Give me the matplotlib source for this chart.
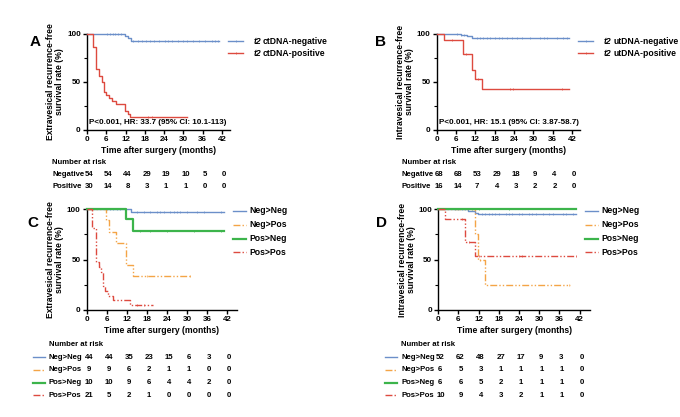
import numpy as np
import matplotlib
matplotlib.use("Agg")
import matplotlib.pyplot as plt
from matplotlib.transforms import blended_transform_factory
from matplotlib.ticker import MultipleLocator

plt.rcParams['font.family'] = ['Liberation Sans', 'DejaVu Sans']
plt.rcParams['font.weight'] = 'bold'

# colours
BLUE = '#6b8fc9'
RED = '#dd4a3f'
GREEN = '#3cb44b'
ORANGE = '#f4a446'
DDOT = (0, (5, 1.5, 1, 1.5, 1, 1.5))

ticks_x = [0, 6, 12, 18, 24, 30, 36, 42]

# ---- Panel A: ctDNA at t2, extravesical RFS ----
a_neg_t = [0, 11.8, 12.8, 13.7, 41]
a_neg_s = [100, 98, 96, 92.6, 92.6]
a_neg_cens = [6.3, 7.2, 8.0, 8.8, 9.7, 10.7, 14.4, 15.8, 17.1, 18.5, 19.7, 20.9, 22.4,
              24.2, 25.1, 26.3, 28.2, 29.9, 31.1, 33.0, 34.8, 36.7, 39.0, 39.8, 40.7]
a_pos_t = [0, 1.8, 2.8, 3.8, 4.6, 5.4, 5.9, 6.8, 7.7, 9.0, 11.8, 12.7, 13.5, 31]
a_pos_s = [100, 86.7, 63.3, 56.7, 50, 40, 36.7, 33.3, 30, 26.7, 20, 16.7, 13.3, 13.3]
a_pos_cens = [19.1, 20.1]
a_risk_neg = [54, 54, 44, 29, 19, 10, 5, 0]
a_risk_pos = [30, 14, 8, 3, 1, 1, 0, 0]

# ---- Panel B: utDNA at t2, intravesical RFS ----
b_neg_t = [0, 7.5, 9.5, 11.0, 41]
b_neg_s = [100, 99, 97.5, 95.5, 95.5]
b_neg_cens = [6.4, 7.5, 8.5, 12.4, 13.5, 14.5, 15.5, 16.6, 18.1, 19.2, 20.2, 21.8, 23.3,
              24.9, 26.4, 29.0, 32.2, 33.2, 34.3, 37.4, 39.3, 40.5]
b_pos_t = [0, 2.3, 8.1, 11.1, 11.9, 14.0, 41]
b_pos_s = [100, 93.8, 79.6, 62, 53, 42.5, 42.5]
b_pos_cens = [4.7, 9.1, 12.9, 22.8, 23.8, 38.9]
b_risk_neg = [68, 68, 53, 29, 18, 9, 4, 0]
b_risk_pos = [16, 14, 7, 4, 3, 2, 2, 0]

# ---- Panel C: dynamic ctDNA groups, extravesical RFS ----
c_nn_t = [0, 13.1, 41]
c_nn_s = [100, 97, 97]
c_nn_cens = [6.0, 7.0, 8.0, 9.0, 10.0, 11.6, 15.0, 17.0, 19.0, 21.0, 22.0, 23.0, 25.0, 26.0,
             27.0, 28.0, 30.0, 33.0, 35.0, 40.0]
c_np_t = [0, 5.75, 6.7, 8.9, 11.7, 13.7, 31.2]
c_np_s = [100, 88.9, 77.8, 66.7, 44.4, 33.3, 33.3]
c_np_cens = [18.0, 31.0]
c_pn_t = [0, 11.7, 13.9, 41]
c_pn_s = [100, 90, 78, 78]
c_pn_cens = [16.0, 19.0, 24.0, 32.0, 40.0]
c_pp_t = [0, 1.6, 2.8, 3.7, 4.2, 4.8, 5.6, 6.4, 7.9, 12.9, 19.8]
c_pp_s = [100, 81, 48, 43, 38, 24, 19, 14.3, 9.5, 4.8, 4.8]
c_pp_cens = [15.0, 17.0]
c_risk = {'Neg>Neg': [44, 44, 35, 23, 15, 6, 3, 0],
          'Neg>Pos': [9, 9, 6, 2, 1, 1, 0, 0],
          'Pos>Neg': [10, 10, 9, 6, 4, 4, 2, 0],
          'Pos>Pos': [21, 5, 2, 1, 0, 0, 0, 0]}

# ---- Panel D: dynamic utDNA groups, intravesical RFS ----
d_nn_t = [0, 8.9, 10.9, 11.9, 41]
d_nn_s = [100, 98.5, 96.5, 95, 95]
d_nn_cens = [5.0, 6.0, 7.0, 8.0, 13.0, 14.0, 15.0, 16.0, 17.0, 18.0, 20.0, 21.0, 22.0, 24.0,
             25.0, 27.0, 28.0, 29.0, 31.0, 33.0, 34.0, 37.0, 38.0, 40.0]
d_np_t = [0, 10.9, 11.7, 13.9, 39.2]
d_np_s = [100, 75, 50, 25, 25]
d_np_cens = [12.5, 39.0]
d_pn_t = [0, 41]
d_pn_s = [100, 100]
d_pn_cens = [10.0, 12.0, 21.0]
d_pp_t = [0, 2.0, 7.9, 10.9, 41]
d_pp_s = [100, 90, 67.5, 54, 54]
d_pp_cens = [7.0, 9.0, 12.0, 24.0, 25.0, 41.0]
d_risk = {'Neg>Neg': [52, 62, 48, 27, 17, 9, 3, 0],
          'Neg>Pos': [6, 5, 3, 1, 1, 1, 1, 0],
          'Pos>Neg': [6, 6, 5, 2, 1, 1, 1, 0],
          'Pos>Pos': [10, 9, 4, 3, 2, 1, 1, 0]}

group_styles = {'Neg>Neg': dict(color=BLUE, lw=1.0, ls='-'),
                'Neg>Pos': dict(color=ORANGE, lw=1.0, ls=DDOT),
                'Pos>Neg': dict(color=GREEN, lw=1.6, ls='-'),
                'Pos>Pos': dict(color=RED, lw=1.0, ls=DDOT)}

W, H = 680, 417
fig = plt.figure(figsize=(W / 100, H / 100), dpi=100)


def px_axes(x0, x1, ytop, ybot):
    return fig.add_axes([x0 / W, 1 - ybot / H, (x1 - x0) / W, (ybot - ytop) / H])


def km(ax, t, s, cens, style):
    ax.step(t, s, where='post', clip_on=False, zorder=3, **style)
    cs = [s[np.searchsorted(t, c, side='right') - 1] for c in cens]
    ax.plot(cens, cs, ls='none', marker='|', ms=2.0, mew=0.5, color=style['color'],
            clip_on=False, zorder=3)


def style_axes(ax, xmax, ylabel):
    ax.set_xlim(0, xmax)
    ax.set_ylim(0, 100)
    ax.set_xticks(ticks_x)
    ax.set_yticks([0, 50, 100])
    ax.yaxis.set_minor_locator(MultipleLocator(25))
    for sp in ['top', 'right']:
        ax.spines[sp].set_visible(False)
    for sp in ['left', 'bottom']:
        ax.spines[sp].set_linewidth(1.0)
    ax.tick_params(axis='both', which='major', labelsize=5.8, length=3, width=1.0, pad=1.5)
    ax.tick_params(axis='y', which='minor', length=2, width=0.8)
    for lab in ax.get_xticklabels() + ax.get_yticklabels():
        lab.set_fontweight('bold')
    ax.set_xlabel('Time after surgery (months)', fontsize=6.2, fontweight='bold', labelpad=2)
    ax.set_ylabel(ylabel, fontsize=6.2, fontweight='bold', labelpad=2, linespacing=1.0)


def risk_row(ax, y_px, values, fs=5.6):
    tr = blended_transform_factory(ax.transData, fig.transFigure)
    for xv, v in zip(ticks_x, values):
        ax.text(xv + 0.6, 1 - y_px / H, str(v), transform=tr, ha='center', va='center',
                fontsize=fs, fontweight='bold')


# ---------- A ----------
axA = px_axes(87, 230, 34, 130)
km(axA, a_neg_t, a_neg_s, a_neg_cens, dict(color=BLUE, lw=1.0, ls='-'))
km(axA, a_pos_t, a_pos_s, a_pos_cens, dict(color=RED, lw=1.0, ls='-'))
style_axes(axA, 44.5, 'Extravesical recurrence-free\nsurvival rate (%)')
axA.text(0.7, 8, 'P<0.001, HR: 33.7 (95% CI: 10.1-113)', fontsize=5.8, fontweight='bold',
         va='center')
fig.text(30 / W, 1 - 42 / H, 'A', fontsize=11, fontweight='bold', va='center')

# ---------- B ----------
axB = px_axes(436.7, 580, 34, 130)
km(axB, b_neg_t, b_neg_s, b_neg_cens, dict(color=BLUE, lw=1.0, ls='-'))
km(axB, b_pos_t, b_pos_s, b_pos_cens, dict(color=RED, lw=1.0, ls='-'))
style_axes(axB, 44.5, 'Intravesical recurrence-free\nsurvival rate (%)')
axB.text(0.7, 8, 'P<0.001, HR: 15.1 (95% CI: 3.87-58.7)', fontsize=5.8, fontweight='bold',
         va='center')
fig.text(375 / W, 1 - 42 / H, 'B', fontsize=11, fontweight='bold', va='center')

# legends for A and B
for x_line, names in [(228, ['ctDNA-negative', 'ctDNA-positive']),
                      (578, ['utDNA-negative', 'utDNA-positive'])]:
    for i, (nm, col) in enumerate(zip(names, [BLUE, RED])):
        y = 1 - (41 + 12 * i) / H
        fig.add_artist(plt.Line2D([x_line / W, (x_line + 15) / W], [y, y], color=col, lw=1.0))
        fig.add_artist(plt.Line2D([(x_line + 7.5) / W], [y], color=col, marker='|', ms=2.0,
                                  mew=0.5))
        fig.text((x_line + 26) / W, y, 't2', fontsize=6.2, fontweight='bold', style='italic',
                 va='center')
        fig.text((x_line + 35) / W, y, nm, fontsize=6.2, fontweight='bold', va='center')

# risk tables A and B
for ax, x_lab, rneg, rpos in [(axA, 52, a_risk_neg, a_risk_pos),
                              (axB, 402, b_risk_neg, b_risk_pos)]:
    fig.text(x_lab / W, 1 - 163 / H, 'Number at risk', fontsize=5.6, fontweight='bold',
             va='center')
    fig.text(x_lab / W, 1 - 174.5 / H, 'Negative', fontsize=5.6, fontweight='bold', va='center')
    fig.text(x_lab / W, 1 - 186.5 / H, 'Positive', fontsize=5.6, fontweight='bold', va='center')
    risk_row(ax, 174.5, rneg)
    risk_row(ax, 186.5, rpos)

# ---------- C ----------
axC = px_axes(86.7, 237, 209.3, 310)
km(axC, c_nn_t, c_nn_s, c_nn_cens, group_styles['Neg>Neg'])
km(axC, c_np_t, c_np_s, c_np_cens, group_styles['Neg>Pos'])
km(axC, c_pn_t, c_pn_s, c_pn_cens, group_styles['Pos>Neg'])
km(axC, c_pp_t, c_pp_s, c_pp_cens, group_styles['Pos>Pos'])
style_axes(axC, 44.9, 'Extravesical recurrence-free\nsurvival rate (%)')
fig.text(27 / W, 1 - 223 / H, 'C', fontsize=11, fontweight='bold', va='center')

# ---------- D ----------
axD = px_axes(438.3, 590, 209.3, 310)
km(axD, d_nn_t, d_nn_s, d_nn_cens, group_styles['Neg>Neg'])
km(axD, d_np_t, d_np_s, d_np_cens, group_styles['Neg>Pos'])
km(axD, d_pn_t, d_pn_s, d_pn_cens, group_styles['Pos>Neg'])
km(axD, d_pp_t, d_pp_s, d_pp_cens, group_styles['Pos>Pos'])
style_axes(axD, 45.1, 'Intravesical recurrence-free\nsurvival rate (%)')
fig.text(376 / W, 1 - 223 / H, 'D', fontsize=11, fontweight='bold', va='center')

# legends and risk tables for C and D
for ax, x_leg, x_tab, risk in [(axC, 233, 33, c_risk), (axD, 585, 385, d_risk)]:
    for i, (nm, st) in enumerate(group_styles.items()):
        y = 1 - (211 + 13.8 * i) / H
        fig.add_artist(plt.Line2D([x_leg / W, (x_leg + 13) / W], [y, y], **st))
        fig.text((x_leg + 16) / W, y, nm, fontsize=6.2, fontweight='bold', va='center')
    fig.text((x_tab + 16) / W, 1 - 344 / H, 'Number at risk', fontsize=5.6, fontweight='bold',
             va='center')
    for i, (nm, vals) in enumerate(risk.items()):
        ypx = 357.3 + 12.6 * i
        y = 1 - ypx / H
        fig.add_artist(plt.Line2D([x_tab / W, (x_tab + 12) / W], [y, y], **group_styles[nm]))
        fig.text((x_tab + 16) / W, y, nm, fontsize=5.6, fontweight='bold', va='center')
        risk_row(ax, ypx, vals)

fig.savefig('out.png', dpi=100)
